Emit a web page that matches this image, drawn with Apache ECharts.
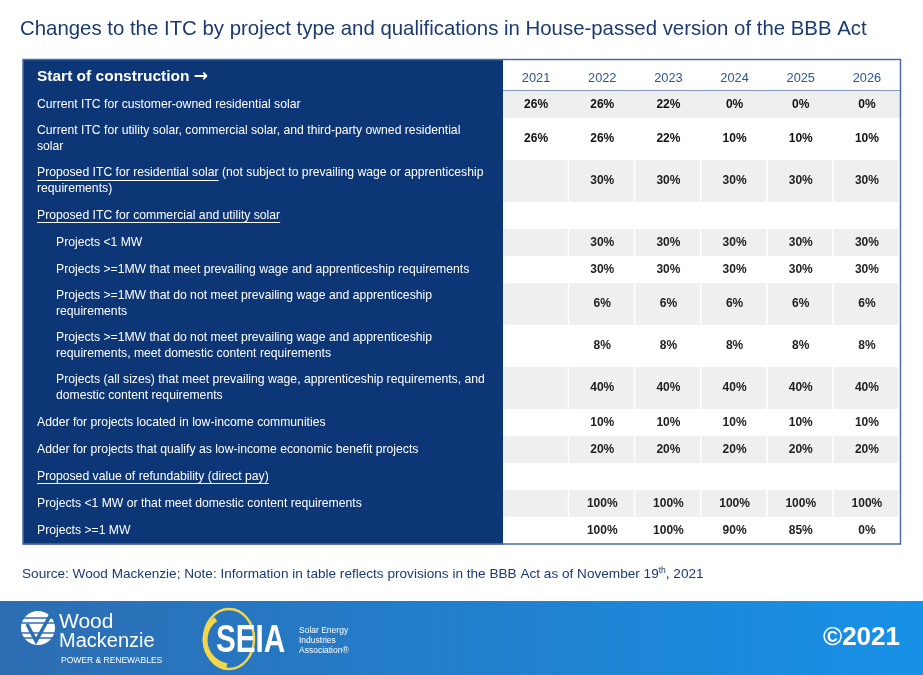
<!DOCTYPE html>
<html><head><meta charset="utf-8">
<script src="https://cdn.jsdelivr.net/npm/echarts@6/dist/echarts.min.js"></script>
<style>html,body{margin:0;padding:0;background:#fff}#c{width:923px;height:675px}</style>
</head><body><div id="c"></div>
<script>
// ---------- data ----------
const years = ['2021', '2022', '2023', '2024', '2025', '2026'];
const headerLabel = 'Start of construction';
const rowLabels = [
  'Current ITC for customer-owned residential solar',
  'Current ITC for utility solar, commercial solar, and third-party owned residential\nsolar',
  'Proposed ITC for residential solar (not subject to prevailing wage or apprenticeship\nrequirements)',
  'Proposed ITC for commercial and utility solar',
  'Projects <1 MW',
  'Projects >=1MW that meet prevailing wage and apprenticeship requirements',
  'Projects >=1MW that do not meet prevailing wage and apprenticeship\nrequirements',
  'Projects >=1MW that do not meet prevailing wage and apprenticeship\nrequirements, meet domestic content requirements',
  'Projects (all sizes) that meet prevailing wage, apprenticeship requirements, and\ndomestic content requirements',
  'Adder for projects located in low-income communities',
  'Adder for projects that qualify as low-income economic benefit projects',
  'Proposed value of refundability (direct pay)',
  'Projects <1 MW or that meet domestic content requirements',
  'Projects >=1 MW'
];
const rowUnderlined = ['', '', 'Proposed ITC for residential solar', 'Proposed ITC for commercial and utility solar',
  '', '', '', '', '', '', '', 'Proposed value of refundability (direct pay)', '', ''];
const rowIndent = [0, 0, 0, 0, 1, 1, 1, 1, 1, 0, 0, 0, 0, 0];

const currentResidential        = [26, 26, 22, 0, 0, 0];
const currentUtilityCommercial  = [26, 26, 22, 10, 10, 10];
const proposedResidential       = [null, 30, 30, 30, 30, 30];
const proposedCommercialHeading = [null, null, null, null, null, null];
const projectsUnder1MW          = [null, 30, 30, 30, 30, 30];
const over1MWMeetWage           = [null, 30, 30, 30, 30, 30];
const over1MWNoWage             = [null, 6, 6, 6, 6, 6];
const over1MWNoWageDomestic     = [null, 8, 8, 8, 8, 8];
const allSizesAllRequirements   = [null, 40, 40, 40, 40, 40];
const adderLowIncomeCommunities = [null, 10, 10, 10, 10, 10];
const adderLowIncomeBenefit     = [null, 20, 20, 20, 20, 20];
const refundabilityHeading      = [null, null, null, null, null, null];
const refundUnder1MWOrDomestic  = [null, 100, 100, 100, 100, 100];
const refundOver1MW             = [null, 100, 100, 90, 85, 0];

const rowValues = [currentResidential, currentUtilityCommercial, proposedResidential, proposedCommercialHeading,
  projectsUnder1MW, over1MWMeetWage, over1MWNoWage, over1MWNoWageDomestic, allSizesAllRequirements,
  adderLowIncomeCommunities, adderLowIncomeBenefit, refundabilityHeading, refundUnder1MWOrDomestic, refundOver1MW];

// ---------- layout ----------
const NAVY = '#0d3677';
const GREY = '#efefef';
const FONT = '"Liberation Sans", Arial, sans-serif';
const HEADER_H = 31, ONE_LINE_H = 27, EXTRA_LINE_H = 15, LINE_H = 16;
const rowLines = rowLabels.map(l => l.split('\n').length);
const rowH = rowLines.map(n => ONE_LINE_H + EXTRA_LINE_H * (n - 1));
const rowStart = [];
rowH.reduce((acc, h, i) => { rowStart[i] = acc; return acc + h; }, 0);
const total = rowH.reduce((a, b) => a + b, 0);

const measureCtx = document.createElement('canvas').getContext('2d');
function textWidth(s, font) { measureCtx.font = font; return measureCtx.measureText(s).width; }

const leftData = [[-HEADER_H, 0, -1]].concat(rowLabels.map((l, i) => [rowStart[i], rowStart[i] + rowH[i], i]));

const cells = [];
rowValues.forEach((vals, r) => vals.forEach((v, c) => cells.push({ row: r, col: c, v: v })));
const rightData = cells.map(c => [c.col, rowStart[c.row], rowStart[c.row] + rowH[c.row]]);

function renderLeft(params, api) {
  const y0 = api.value(0), y1 = api.value(1), idx = api.value(2);
  const p0 = api.coord([0, y0]), p1 = api.coord([1, y1]);
  const cy = (p0[1] + p1[1]) / 2;
  const children = [{ type: 'rect', shape: { x: p0[0], y: p0[1], width: p1[0] - p0[0], height: p1[1] - p0[1] + 0.6 }, style: { fill: NAVY } }];
  if (idx < 0) {
    children.push({ type: 'text', x: p0[0] + 14, y: cy + 1, style: {
      text: headerLabel + ' {arr|\u2192}', fill: '#fff', fontSize: 15.5, fontWeight: 'bold', fontFamily: FONT, verticalAlign: 'middle',
      rich: { arr: { fontSize: 17, fontWeight: 'bold', fill: '#fff', color: '#fff', fontFamily: '"DejaVu Sans", sans-serif' } } } });
    return { type: 'group', children };
  }
  const x = p0[0] + 14 + rowIndent[idx] * 19;
  const lines = rowLines[idx];
  children.push({ type: 'text', x: x, y: cy, style: { text: rowLabels[idx], fill: '#fff', fontSize: 12.2, fontFamily: FONT, verticalAlign: 'middle', lineHeight: LINE_H } });
  const u = rowUnderlined[idx];
  if (u) {
    const w = textWidth(u, '12.2px ' + FONT);
    const uy = Math.round(cy - (lines - 1) * LINE_H / 2 + 6.5) + 0.5;
    children.push({ type: 'line', shape: { x1: x, y1: uy, x2: x + w, y2: uy }, style: { stroke: '#fff', lineWidth: 1 } });
  }
  return { type: 'group', children };
}

function renderRight(params, api) {
  const c = cells[params.dataIndex];
  const bw = api.size([1, 0])[0];
  const pTop = api.coord([api.value(0), api.value(1)]);
  const pBot = api.coord([api.value(0), api.value(2)]);
  const cx = pTop[0];
  const grey = c.row % 2 === 0;
  const split = c.row > 0;
  const children = [];
  if (grey) {
    children.push({ type: 'rect', shape: { x: cx - bw / 2, y: pTop[1], width: bw - (split ? 1.5 : -0.5), height: pBot[1] - pTop[1] }, style: { fill: GREY } });
  }
  if (c.v !== null) {
    children.push({ type: 'text', x: cx, y: (pTop[1] + pBot[1]) / 2, style: { text: c.v + '%', fill: c.row < 2 ? '#111' : '#222', fontSize: 12, fontWeight: 'bold', fontFamily: FONT, align: 'center', verticalAlign: 'middle' } });
  }
  return { type: 'group', children };
}

const chart = echarts.init(document.getElementById('c'), null, { renderer: 'canvas' });
chart.setOption({
  backgroundColor: '#fff',
  animation: false,
  title: [{
    text: 'Changes to the ITC by project type and qualifications in House-passed version of the BBB Act',
    left: 20, top: 19, padding: 0,
    textStyle: { fontSize: 20.4, fontWeight: 'normal', color: '#1b3a72', fontFamily: FONT }
  }, {
    text: 'Source: Wood Mackenzie; Note: Information in table reflects provisions in the BBB Act as of November 19{sup|th}, 2021',
    left: 22, top: 566, padding: 0,
    textStyle: { fontSize: 13.6, fontWeight: 'normal', color: '#1b3a72', fontFamily: FONT,
      rich: { sup: { fontSize: 8.5, color: '#1b3a72', fontFamily: FONT, padding: [0, 0, 7, 0] } } }
  }],
  grid: [
    { left: 23, top: 60, width: 480, height: HEADER_H + total },
    { left: 503, top: 60 + HEADER_H, width: 397, height: total }
  ],
  xAxis: [
    { gridIndex: 0, type: 'value', min: 0, max: 1, show: false },
    { gridIndex: 1, type: 'category', data: years, position: 'top',
      axisLine: { show: true, lineStyle: { color: '#8398c0', width: 2 } },
      axisTick: { show: false }, splitLine: { show: false },
      axisLabel: { color: '#2f5496', fontSize: 12.8, fontFamily: FONT, margin: 6 } }
  ],
  yAxis: [
    { gridIndex: 0, type: 'value', min: -HEADER_H, max: total, inverse: true, show: false },
    { gridIndex: 1, type: 'value', min: 0, max: total, inverse: true, show: false }
  ],
  series: [
    { type: 'custom', xAxisIndex: 0, yAxisIndex: 0, data: leftData, renderItem: renderLeft, clip: false, silent: true },
    { type: 'custom', xAxisIndex: 1, yAxisIndex: 1, data: rightData, renderItem: renderRight, clip: false, silent: true, z: 1 }
  ],
  graphic: [
    { type: 'rect', z: 100, shape: { x: 23, y: 59.5, width: 877.5, height: 484.5 }, style: { fill: null, stroke: '#4d6ca3', lineWidth: 1.5 } },
    // footer band
    { type: 'rect', z: 0, shape: { x: 0, y: 601, width: 923, height: 74 },
      style: { fill: new echarts.graphic.LinearGradient(0, 0, 1, 0, [{ offset: 0, color: '#2d6db2' }, { offset: 1, color: '#1791e7' }]) } },
    // Wood Mackenzie mark
    { type: 'group', z: 5, children: [
      { type: 'circle', shape: { cx: 38, cy: 628, r: 17 }, style: { fill: '#fff' } },
      { type: 'line', shape: { x1: 20, y1: 618, x2: 56, y2: 618 }, style: { stroke: '#2d6db2', lineWidth: 1.3 } },
      { type: 'line', shape: { x1: 20, y1: 623, x2: 56, y2: 623 }, style: { stroke: '#2d6db2', lineWidth: 1.3 } },
      { type: 'line', shape: { x1: 20, y1: 633, x2: 56, y2: 633 }, style: { stroke: '#2d6db2', lineWidth: 1.3 } },
      { type: 'line', shape: { x1: 20, y1: 638, x2: 56, y2: 638 }, style: { stroke: '#2d6db2', lineWidth: 1.3 } },
      { type: 'polyline', shape: { points: [[27, 624], [36, 641], [51, 614]] }, style: { stroke: '#2d6db2', lineWidth: 3.5, fill: null } },
      { type: 'text', x: 59, y: 622, style: { text: 'Wood', fill: '#fff', fontSize: 21, fontFamily: FONT, verticalAlign: 'middle' } },
      { type: 'text', x: 59, y: 641, style: { text: 'Mackenzie', fill: '#fff', fontSize: 20, fontFamily: FONT, verticalAlign: 'middle' } },
      { type: 'text', x: 61, y: 661, style: { text: 'POWER & RENEWABLES', fill: '#fff', fontSize: 8.5, fontFamily: FONT, verticalAlign: 'middle' } }
    ] },
    // SEIA mark
    { type: 'group', z: 5, children: [
      { type: 'ellipse', shape: { cx: 229, cy: 639, rx: 25, ry: 30 }, style: { stroke: '#f2d64b', lineWidth: 2.5, fill: null } },
      { type: 'arc', shape: { cx: 231, cy: 640, r: 26, startAngle: Math.PI * 0.55, endAngle: Math.PI * 1.3 }, style: { stroke: '#f2d64b', lineWidth: 5, fill: null } },
      { type: 'text', x: 216, y: 642, scaleX: 0.78, style: { text: 'SEIA', fill: '#fff', fontSize: 38, fontWeight: 'bold', fontFamily: FONT, verticalAlign: 'middle' } },
      { type: 'text', x: 299, y: 641, style: { text: 'Solar Energy\nIndustries\nAssociation\u00ae', fill: '#fff', fontSize: 8.5, lineHeight: 10, fontFamily: FONT, verticalAlign: 'middle' } }
    ] },
    { type: 'text', z: 5, x: 900, y: 638, style: { text: '\u00a92021', fill: '#fff', fontSize: 26, fontWeight: 'bold', fontFamily: FONT, align: 'right', verticalAlign: 'middle' } }
  ]
});
</script>
</body></html>
